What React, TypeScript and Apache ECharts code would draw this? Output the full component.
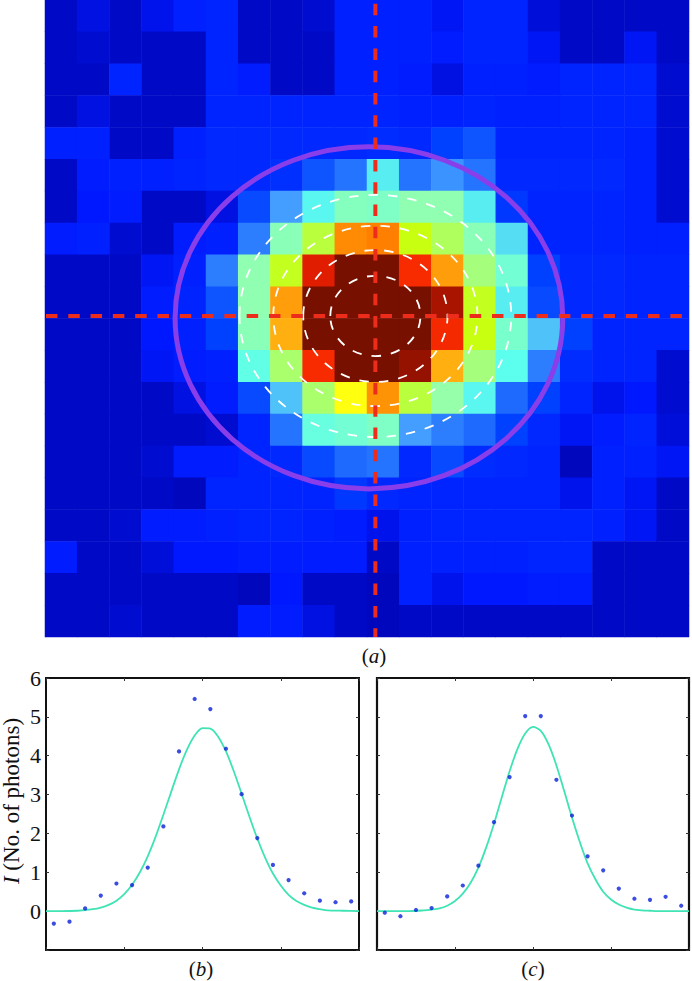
import React, { useEffect, useRef } from "react";
import * as echarts from "echarts";

// Panel (a): photon-count map, colour index 0-100, row 0 at the top
const mapRows: number[][] = [
  [4, 7, 4, 8, 12, 13, 4, 4, 5, 12, 12, 12, 9, 13, 13, 6, 4, 4, 4, 4],
  [4, 5, 4, 4, 4, 13, 4, 4, 4, 12, 12, 12, 11, 13, 13, 9, 4, 4, 9, 4],
  [4, 4, 13, 4, 4, 13, 11, 4, 4, 12, 12, 11, 7, 12, 12, 11, 13, 13, 13, 5],
  [4, 7, 4, 4, 4, 13, 13, 13, 13, 13, 13, 12, 12, 13, 12, 12, 13, 13, 13, 5],
  [12, 12, 4, 4, 12, 14, 14, 14, 14, 14, 15, 14, 20, 22, 13, 13, 13, 13, 12, 5],
  [4, 11, 12, 12, 13, 14, 14, 16, 22, 25, 38, 25, 28, 25, 14, 14, 14, 14, 12, 5],
  [4, 10, 11, 4, 4, 7, 21, 29, 39, 47, 46, 49, 49, 38, 18, 13, 13, 13, 12, 5],
  [11, 12, 5, 4, 11, 12, 26, 48, 57, 74, 75, 60, 55, 48, 36, 13, 13, 13, 12, 12],
  [4, 4, 4, 9, 12, 26, 49, 59, 88, 100, 100, 82, 72, 53, 44, 20, 14, 14, 13, 13],
  [4, 4, 4, 11, 13, 22, 49, 72, 100, 100, 100, 100, 95, 59, 38, 21, 14, 14, 13, 13],
  [4, 4, 4, 10, 12, 20, 48, 70, 100, 100, 100, 100, 83, 60, 45, 33, 20, 13, 13, 13],
  [4, 4, 4, 9, 11, 12, 41, 54, 82, 100, 100, 97, 70, 53, 40, 26, 15, 13, 13, 5],
  [4, 4, 4, 4, 7, 11, 21, 33, 54, 65, 73, 57, 50, 39, 24, 20, 13, 8, 10, 5],
  [4, 4, 4, 4, 4, 5, 13, 25, 42, 44, 46, 29, 26, 24, 20, 14, 9, 11, 13, 6],
  [4, 4, 4, 5, 11, 11, 13, 14, 21, 24, 25, 14, 21, 15, 14, 13, 3, 12, 12, 9],
  [4, 4, 4, 4, 3, 13, 13, 13, 13, 18, 14, 13, 13, 13, 13, 13, 8, 12, 9, 4],
  [4, 4, 5, 11, 11, 12, 13, 13, 12, 11, 8, 12, 13, 13, 13, 13, 13, 12, 9, 4],
  [11, 4, 4, 6, 10, 10, 11, 11, 11, 11, 4, 12, 12, 12, 12, 13, 13, 4, 4, 4],
  [4, 4, 4, 4, 4, 4, 3, 10, 4, 4, 3, 12, 8, 10, 10, 11, 11, 4, 4, 4],
  [4, 4, 5, 4, 4, 4, 11, 11, 7, 4, 3, 4, 4, 4, 4, 4, 4, 4, 4, 4],
];
const colorStops = [
  "#0000a0", "#000ccf", "#0018ff", "#002cff", "#0040ff", "#2574ff", "#4aa8ff",
  "#53d4f6", "#5cffee", "#79ffcc", "#96ffaa", "#afff5d", "#c8ff10", "#ffff10",
  "#ffb010", "#ff8000", "#ff3000", "#ee2400", "#d81800", "#a81400", "#781000",
];

// Overlays of panel (a), in map cell units: cx, cy, rx, ry
const purpleEllipse = [[10.06, 9.98, 6.02, 5.37]];
const whiteEllipses = [
  [10.26, 9.92, 4.22, 3.8],
  [10.26, 9.92, 3.17, 2.83],
  [10.26, 9.92, 2.24, 2.07],
  [10.26, 9.92, 1.4, 1.26],
];
const crossH = [[0.03, 9.92], [20, 9.92]];
const crossV = [[10.26, 0.12], [10.26, 20]];

// Panels (b), (c)
const pointX = [0.5, 1.5, 2.5, 3.5, 4.5, 5.5, 6.5, 7.5, 8.5, 9.5, 10.5, 11.5, 12.5, 13.5, 14.5, 15.5, 16.5, 17.5, 18.5, 19.5];
const pointsB = [-0.32, -0.27, 0.07, 0.4, 0.71, 0.67, 1.12, 2.18, 4.11, 5.46, 5.2, 4.18, 3.01, 1.88, 1.19, 0.8, 0.46, 0.27, 0.23, 0.25];
const pointsC = [-0.04, -0.13, 0.03, 0.08, 0.38, 0.66, 1.17, 2.29, 3.45, 5.02, 5.02, 3.38, 2.46, 1.41, 1.05, 0.58, 0.32, 0.29, 0.37, 0.14];
const fitX = [0, 1, 2, 3, 3.5, 4, 4.5, 5, 5.5, 6, 6.5, 7, 7.5, 8, 8.5, 9, 9.5, 10, 10.5, 11, 11.5, 12, 12.5, 13, 13.5, 14, 14.5, 15, 15.5, 16, 16.5, 17, 17.5, 18, 19, 20];
const fitB = [0, 0, 0.01, 0.05, 0.09, 0.16, 0.27, 0.44, 0.68, 1.0, 1.41, 1.91, 2.48, 3.07, 3.65, 4.15, 4.52, 4.71, 4.7, 4.49, 4.11, 3.6, 3.02, 2.43, 1.87, 1.38, 0.97, 0.66, 0.42, 0.26, 0.16, 0.09, 0.05, 0.02, 0.01, 0];
const fitC = [0, 0, 0, 0.02, 0.04, 0.07, 0.14, 0.26, 0.45, 0.73, 1.12, 1.64, 2.25, 2.93, 3.6, 4.17, 4.57, 4.74, 4.64, 4.29, 3.75, 3.09, 2.41, 1.78, 1.23, 0.82, 0.5, 0.3, 0.17, 0.09, 0.04, 0.02, 0.01, 0, 0, 0];
const yTicks = ["0", "1", "2", "3", "4", "5", "6"];

const SERIF = "Liberation Serif";

function pairs(xs: number[], ys: number[]) {
  return xs.map((x, i) => [x, ys[i]]);
}

function renderEllipse(stroke: string, lineWidth: number, lineDash?: number[]) {
  return (_: any, api: any) => {
    const cx = api.value(0), cy = api.value(1);
    const c = api.coord([cx, cy]);
    const e = api.coord([cx + api.value(2), cy + api.value(3)]);
    return {
      type: "ellipse",
      shape: { cx: c[0], cy: c[1], rx: Math.abs(e[0] - c[0]), ry: Math.abs(e[1] - c[1]) },
      style: { fill: "none", stroke, lineWidth, lineDash },
      silent: true,
    };
  };
}

function label(text: string, x: number, y: number, size: number, rotation = 0) {
  return {
    type: "text",
    x,
    y,
    rotation,
    z: 100,
    style: {
      text,
      fontFamily: SERIF,
      fontSize: size,
      fill: "#111",
      align: "center",
      verticalAlign: "middle",
      rich: {
        i: { fontFamily: SERIF, fontSize: size, fontStyle: "italic", fill: "#111" },
      },
    },
  };
}

const tick = { show: true, inside: true, length: 3, lineStyle: { color: "#333", width: 1 } };

function plotX(gridIndex: number, position: string) {
  return {
    type: "value", gridIndex, position, min: 0, max: 20, interval: 5,
    axisLine: { show: false, onZero: false }, splitLine: { show: false }, axisLabel: { show: false },
    axisTick: tick,
  };
}
function plotY(gridIndex: number, position: string, labels: boolean) {
  return {
    type: "value", gridIndex, position, min: -1, max: 6, interval: 1,
    axisLine: { show: false, onZero: false }, splitLine: { show: false },
    axisLabel: {
      show: labels, fontFamily: SERIF, fontSize: 22, color: "#111", margin: 5,
      formatter: (v: number) => (yTicks.includes(String(v)) ? String(v) : ""),
    },
    axisTick: tick,
  };
}

export default function App() {
  const ref = useRef<HTMLDivElement>(null);
  useEffect(() => {
    document.body.style.margin = "0";
    document.body.style.background = "#fff";
    const chart = echarts.init(ref.current!, undefined, { renderer: "svg" });
    const cells: number[][] = [];
    mapRows.forEach((row, r) => row.forEach((v, c) => cells.push([c, r, v])));
    const idx = Array.from({ length: 20 }, (_, i) => String(i));
    const frame = { show: true, borderColor: "#111", backgroundColor: "#fff" };
    const fitLine = { color: "#3fe3b4", width: 1.8 };
    const dots = { color: "#0a20d8" };
    const crossStyle = { color: "#ee2c1c", width: 4, type: [11.5, 10.8] };
    chart.setOption({
      animation: false,
      backgroundColor: "#fff",
      grid: [
        { left: 45, top: 0, width: 644, height: 637 },
        { left: 45, top: 0, width: 644, height: 637 },
        { left: 46, top: 678, width: 313, height: 272, borderWidth: 2, ...frame },
        { left: 377, top: 678, width: 312, height: 272, borderWidth: 2.2, ...frame },
      ],
      xAxis: [
        { type: "category", gridIndex: 0, data: idx, show: false },
        { type: "value", gridIndex: 1, min: 0, max: 20, show: false },
        plotX(2, "bottom"),
        plotX(2, "top"),
        plotX(3, "bottom"),
        plotX(3, "top"),
      ],
      yAxis: [
        { type: "category", gridIndex: 0, data: idx, inverse: true, show: false },
        { type: "value", gridIndex: 1, min: 0, max: 20, inverse: true, show: false },
        plotY(2, "left", true),
        plotY(2, "right", false),
        plotY(3, "left", false),
        plotY(3, "right", false),
      ],
      visualMap: { show: false, seriesIndex: 0, min: 0, max: 100, inRange: { color: colorStops } },
      series: [
        { type: "heatmap", xAxisIndex: 0, yAxisIndex: 0, data: cells, silent: true },
        { type: "custom", xAxisIndex: 1, yAxisIndex: 1, data: purpleEllipse, z: 3, renderItem: renderEllipse("#8a3eea", 5), silent: true, clip: false },
        { type: "custom", xAxisIndex: 1, yAxisIndex: 1, data: whiteEllipses, z: 4, renderItem: renderEllipse("#ffffff", 1.8, [9.5, 10]), silent: true, clip: false },
        { type: "line", xAxisIndex: 1, yAxisIndex: 1, data: crossH, z: 5, showSymbol: false, lineStyle: crossStyle, silent: true },
        { type: "line", xAxisIndex: 1, yAxisIndex: 1, data: crossV, z: 5, showSymbol: false, lineStyle: crossStyle, silent: true },
        { type: "line", xAxisIndex: 2, yAxisIndex: 2, data: pairs(fitX, fitB), smooth: 0.3, showSymbol: false, lineStyle: fitLine, z: 3, silent: true },
        { type: "scatter", xAxisIndex: 2, yAxisIndex: 2, data: pairs(pointX, pointsB), symbolSize: 4.2, itemStyle: dots, z: 4, silent: true },
        { type: "line", xAxisIndex: 4, yAxisIndex: 4, data: pairs(fitX, fitC), smooth: 0.3, showSymbol: false, lineStyle: fitLine, z: 3, silent: true },
        { type: "scatter", xAxisIndex: 4, yAxisIndex: 4, data: pairs(pointX, pointsC), symbolSize: 4.2, itemStyle: dots, z: 4, silent: true },
      ],
      graphic: [
        label("({i|a})", 374, 656, 21),
        label("({i|b})", 201, 969, 21),
        label("({i|c})", 533, 969, 21),
        label("{i|I} (No. of photons)", 11, 801, 23, Math.PI / 2),
      ],
    });
    return () => chart.dispose();
  }, []);
  return <div ref={ref} style={{ width: 692, height: 981 }} />;
}
